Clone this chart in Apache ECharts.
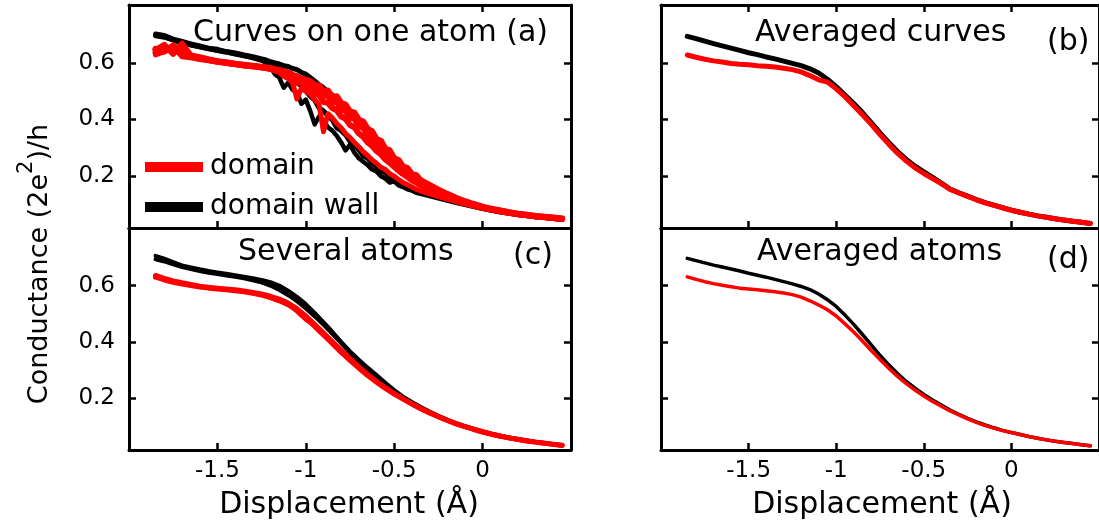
<!DOCTYPE html>
<html>
<head>
<meta charset="utf-8">
<script src="https://cdn.jsdelivr.net/npm/echarts@6/dist/echarts.min.js"></script>
<style>
  html, body { margin: 0; padding: 0; background: #ffffff; }
  #chart { width: 1099px; height: 527px; }
</style>
</head>
<body>
<div id="chart"></div>
<script>
// Tick positions shared by all four panels
const X_TICKS = [-1.5, -1, -0.5, 0];
const Y_TICKS = [0.2, 0.4, 0.6];

// Panel (a): individual traces recorded on one atom (finer sampling through the drop)
const X_A = [
  -1.85, -1.80, -1.75, -1.70, -1.65, -1.60, -1.55, -1.50, -1.45, -1.40, -1.35, -1.30, -1.25,
  -1.225, -1.20, -1.175, -1.15, -1.125, -1.10, -1.075, -1.05, -1.025, -1.00, -0.975, -0.95,
  -0.925, -0.90, -0.875, -0.85, -0.825, -0.80, -0.775, -0.75, -0.725, -0.70, -0.675, -0.65,
  -0.625, -0.60, -0.575, -0.55, -0.525, -0.50, -0.475, -0.45, -0.425, -0.40, -0.375, -0.35,
  -0.30, -0.25, -0.20, -0.15, -0.10, -0.05, 0.00, 0.05, 0.10, 0.15, 0.20, 0.25, 0.30, 0.35, 0.40, 0.45
];
const A_WALL_1 = [
  0.702, 0.697, 0.684, 0.676, 0.667, 0.660, 0.652, 0.648, 0.640, 0.635, 0.628, 0.622, 0.614,
  0.610, 0.604, 0.600, 0.596, 0.590, 0.587, 0.580, 0.576, 0.566, 0.560, 0.548, 0.536,
  0.522, 0.512, 0.497, 0.486, 0.470, 0.455, 0.438, 0.424, 0.404, 0.390, 0.370, 0.352,
  0.330, 0.316, 0.296, 0.280, 0.262, 0.248, 0.232, 0.220, 0.206, 0.196, 0.186, 0.176,
  0.160, 0.145, 0.131, 0.118, 0.107, 0.097, 0.089, 0.082, 0.076, 0.070, 0.065, 0.061, 0.057, 0.054, 0.051, 0.048
];
const A_WALL_2 = [
  0.695, 0.690, 0.680, 0.670, 0.662, 0.656, 0.650, 0.643, 0.637, 0.630, 0.624, 0.617, 0.608,
  0.600, 0.585, 0.560, 0.548, 0.512, 0.530, 0.505, 0.497, 0.455, 0.470, 0.430, 0.382,
  0.410, 0.395, 0.372, 0.360, 0.342, 0.318, 0.290, 0.310, 0.282, 0.262, 0.250, 0.238,
  0.222, 0.215, 0.198, 0.190, 0.176, 0.180, 0.166, 0.160, 0.152, 0.148, 0.140, 0.136,
  0.128, 0.120, 0.112, 0.104, 0.097, 0.090, 0.083, 0.077, 0.071, 0.066, 0.062, 0.058, 0.054, 0.051, 0.048, 0.045
];
const A_WALL_3 = [
  0.698, 0.694, 0.682, 0.672, 0.664, 0.657, 0.650, 0.645, 0.639, 0.633, 0.626, 0.620, 0.611,
  0.606, 0.598, 0.592, 0.580, 0.572, 0.560, 0.548, 0.530, 0.518, 0.500, 0.482, 0.468,
  0.440, 0.430, 0.412, 0.398, 0.370, 0.360, 0.345, 0.322, 0.310, 0.292, 0.270, 0.262,
  0.245, 0.232, 0.216, 0.210, 0.195, 0.188, 0.178, 0.168, 0.162, 0.155, 0.148, 0.142,
  0.134, 0.125, 0.116, 0.108, 0.100, 0.092, 0.085, 0.079, 0.073, 0.068, 0.063, 0.059, 0.055, 0.052, 0.049, 0.046
];
const A_DOM_1 = [
  0.645, 0.664, 0.632, 0.668, 0.626, 0.620, 0.612, 0.606, 0.600, 0.596, 0.592, 0.590, 0.586,
  0.584, 0.582, 0.578, 0.575, 0.570, 0.566, 0.558, 0.552, 0.545, 0.540, 0.536, 0.522,
  0.520, 0.500, 0.502, 0.480, 0.482, 0.458, 0.452, 0.428, 0.424, 0.398, 0.392, 0.366,
  0.358, 0.330, 0.324, 0.296, 0.290, 0.262, 0.256, 0.232, 0.228, 0.206, 0.202, 0.184,
  0.168, 0.151, 0.136, 0.122, 0.110, 0.100, 0.091, 0.083, 0.077, 0.071, 0.066, 0.062, 0.058, 0.055, 0.052, 0.049
];
const A_DOM_2 = [
  0.628, 0.640, 0.655, 0.622, 0.618, 0.612, 0.607, 0.603, 0.598, 0.594, 0.589, 0.586, 0.582,
  0.580, 0.577, 0.572, 0.565, 0.552, 0.545, 0.530, 0.472, 0.510, 0.500, 0.488, 0.470,
  0.452, 0.356, 0.420, 0.405, 0.385, 0.370, 0.350, 0.335, 0.318, 0.303, 0.285, 0.272,
  0.256, 0.244, 0.230, 0.222, 0.208, 0.198, 0.186, 0.176, 0.168, 0.160, 0.152, 0.146,
  0.136, 0.126, 0.117, 0.108, 0.100, 0.092, 0.085, 0.078, 0.072, 0.067, 0.062, 0.058, 0.055, 0.052, 0.049, 0.046
];
const A_DOM_3 = [
  0.635, 0.650, 0.642, 0.660, 0.622, 0.616, 0.610, 0.605, 0.602, 0.597, 0.593, 0.589, 0.585,
  0.583, 0.578, 0.576, 0.570, 0.562, 0.555, 0.540, 0.528, 0.532, 0.515, 0.508, 0.490,
  0.486, 0.462, 0.458, 0.440, 0.432, 0.410, 0.402, 0.380, 0.372, 0.350, 0.338, 0.318,
  0.306, 0.288, 0.276, 0.258, 0.246, 0.232, 0.218, 0.206, 0.196, 0.184, 0.176, 0.166,
  0.150, 0.137, 0.125, 0.114, 0.104, 0.095, 0.088, 0.081, 0.075, 0.069, 0.064, 0.060, 0.056, 0.053, 0.050, 0.047
];
const A_DOM_4 = [
  0.650, 0.640, 0.662, 0.636, 0.624, 0.618, 0.611, 0.604, 0.600, 0.596, 0.591, 0.588, 0.584,
  0.582, 0.580, 0.574, 0.572, 0.566, 0.556, 0.552, 0.538, 0.541, 0.522, 0.526, 0.504,
  0.508, 0.482, 0.486, 0.458, 0.462, 0.436, 0.430, 0.406, 0.402, 0.376, 0.370, 0.344,
  0.336, 0.310, 0.304, 0.278, 0.272, 0.248, 0.240, 0.220, 0.214, 0.196, 0.190, 0.176,
  0.158, 0.143, 0.130, 0.118, 0.107, 0.097, 0.089, 0.082, 0.076, 0.070, 0.065, 0.061, 0.057, 0.054, 0.051, 0.048
];

// Panels (b)-(d): averaged / multi-atom curves on a regular 0.05 Å grid
const X_GRID = [
  -1.85, -1.80, -1.75, -1.70, -1.65, -1.60, -1.55, -1.50, -1.45, -1.40, -1.35, -1.30, -1.25, -1.20, -1.15, -1.10,
  -1.05, -1.00, -0.95, -0.90, -0.85, -0.80, -0.75, -0.70, -0.65, -0.60, -0.55, -0.50, -0.45, -0.40, -0.35, -0.30,
  -0.25, -0.20, -0.15, -0.10, -0.05, 0.00, 0.05, 0.10, 0.15, 0.20, 0.25, 0.30, 0.35, 0.40, 0.45
];
const B_WALL = [
  0.694, 0.686, 0.677, 0.668, 0.660, 0.652, 0.644, 0.636, 0.629, 0.621, 0.614, 0.606, 0.598, 0.590, 0.579, 0.564,
  0.542, 0.516, 0.486, 0.456, 0.424, 0.388, 0.352, 0.318, 0.286, 0.258, 0.234, 0.214, 0.194, 0.174, 0.153, 0.140,
  0.128, 0.116, 0.105, 0.096, 0.087, 0.078, 0.071, 0.064, 0.058, 0.053, 0.048, 0.043, 0.039, 0.035, 0.031
];
const B_DOM = [
  0.628, 0.620, 0.613, 0.607, 0.603, 0.598, 0.595, 0.593, 0.590, 0.588, 0.585, 0.581, 0.576, 0.568, 0.555, 0.540,
  0.532, 0.508, 0.480, 0.448, 0.416, 0.382, 0.346, 0.312, 0.280, 0.252, 0.228, 0.208, 0.190, 0.172, 0.152, 0.139,
  0.127, 0.115, 0.104, 0.095, 0.086, 0.078, 0.071, 0.064, 0.058, 0.053, 0.048, 0.043, 0.039, 0.035, 0.031
];
const C_WALL_1 = [
  0.706, 0.696, 0.684, 0.672, 0.665, 0.658, 0.652, 0.647, 0.642, 0.637, 0.632, 0.626, 0.620, 0.612, 0.600, 0.582,
  0.560, 0.534, 0.503, 0.470, 0.436, 0.400, 0.366, 0.336, 0.308, 0.282, 0.254, 0.228, 0.205, 0.186, 0.168, 0.152,
  0.137, 0.123, 0.111, 0.100, 0.090, 0.081, 0.073, 0.066, 0.060, 0.054, 0.049, 0.044, 0.040, 0.036, 0.032
];
const C_WALL_2 = [
  0.694, 0.686, 0.676, 0.666, 0.659, 0.652, 0.646, 0.641, 0.636, 0.631, 0.626, 0.619, 0.612, 0.602, 0.589, 0.572,
  0.550, 0.524, 0.494, 0.463, 0.430, 0.396, 0.362, 0.330, 0.300, 0.272, 0.246, 0.223, 0.202, 0.183, 0.166, 0.150,
  0.135, 0.121, 0.109, 0.099, 0.089, 0.080, 0.072, 0.065, 0.059, 0.053, 0.048, 0.043, 0.039, 0.035, 0.031
];
const C_WALL_3 = [
  0.700, 0.690, 0.680, 0.670, 0.662, 0.655, 0.649, 0.643, 0.638, 0.632, 0.626, 0.618, 0.608, 0.596, 0.580, 0.562,
  0.540, 0.514, 0.486, 0.456, 0.424, 0.390, 0.357, 0.326, 0.296, 0.268, 0.243, 0.220, 0.200, 0.181, 0.164, 0.148,
  0.134, 0.120, 0.108, 0.098, 0.088, 0.079, 0.071, 0.064, 0.058, 0.052, 0.047, 0.043, 0.039, 0.035, 0.031
];
const C_DOM_1 = [
  0.630, 0.620, 0.612, 0.606, 0.600, 0.595, 0.591, 0.588, 0.585, 0.582, 0.578, 0.573, 0.566, 0.557, 0.546, 0.532,
  0.512, 0.484, 0.455, 0.424, 0.394, 0.364, 0.334, 0.306, 0.280, 0.256, 0.234, 0.214, 0.196, 0.178, 0.162, 0.147,
  0.133, 0.120, 0.108, 0.098, 0.088, 0.079, 0.071, 0.064, 0.058, 0.052, 0.047, 0.043, 0.039, 0.035, 0.031
];
const C_DOM_2 = [
  0.636, 0.626, 0.617, 0.610, 0.604, 0.598, 0.594, 0.591, 0.588, 0.585, 0.581, 0.576, 0.570, 0.562, 0.552, 0.538,
  0.518, 0.492, 0.462, 0.432, 0.401, 0.370, 0.340, 0.311, 0.284, 0.259, 0.237, 0.216, 0.198, 0.180, 0.163, 0.148,
  0.134, 0.121, 0.109, 0.098, 0.089, 0.080, 0.072, 0.065, 0.058, 0.053, 0.048, 0.043, 0.039, 0.035, 0.032
];
const C_DOM_3 = [
  0.633, 0.622, 0.614, 0.607, 0.601, 0.596, 0.592, 0.589, 0.586, 0.583, 0.579, 0.574, 0.568, 0.560, 0.549, 0.535,
  0.508, 0.478, 0.458, 0.428, 0.392, 0.360, 0.336, 0.308, 0.281, 0.257, 0.235, 0.215, 0.197, 0.179, 0.162, 0.147,
  0.133, 0.120, 0.108, 0.098, 0.088, 0.079, 0.071, 0.064, 0.058, 0.052, 0.047, 0.043, 0.039, 0.035, 0.031
];
const D_WALL = [
  0.697, 0.689, 0.681, 0.673, 0.666, 0.659, 0.652, 0.644, 0.637, 0.630, 0.622, 0.614, 0.606, 0.597, 0.586, 0.570,
  0.550, 0.526, 0.495, 0.462, 0.426, 0.389, 0.352, 0.318, 0.287, 0.259, 0.235, 0.213, 0.193, 0.175, 0.157, 0.142,
  0.128, 0.115, 0.104, 0.094, 0.085, 0.077, 0.070, 0.063, 0.057, 0.051, 0.046, 0.042, 0.038, 0.034, 0.030
];
const D_DOM = [
  0.631, 0.622, 0.614, 0.607, 0.601, 0.596, 0.591, 0.588, 0.585, 0.582, 0.578, 0.574, 0.568, 0.559, 0.546, 0.531,
  0.514, 0.492, 0.464, 0.435, 0.403, 0.369, 0.337, 0.306, 0.277, 0.251, 0.228, 0.207, 0.188, 0.171, 0.154, 0.140,
  0.126, 0.113, 0.102, 0.093, 0.084, 0.077, 0.070, 0.063, 0.057, 0.051, 0.046, 0.042, 0.038, 0.034, 0.030
];

const NAME_DOM = 'domain';
const NAME_WALL = 'domain wall';
const RED = '#ff0000';
const BLACK = '#000000';
const FONT = 'DejaVu Sans';

const X_MIN = -2, X_MAX = 0.5;
const Y_MIN = 0.015, Y_MAX = 0.805;

// Plot rectangles of the 2x2 layout
const GRIDS = [
  { left: 129, top: 5,   width: 442, height: 223 },
  { left: 661, top: 5,   width: 443, height: 223 },
  { left: 129, top: 228, width: 442, height: 222 },
  { left: 661, top: 228, width: 443, height: 222 }
];

function zip(xs, ys) {
  return xs.map((x, i) => [x, ys[i]]);
}

const axisLineStyle = { color: BLACK, width: 3 };
const tickLineStyle = { color: BLACK, width: 2.5 };
const TICK_FONT = 23;

const xAxes = [];
const yAxes = [];
GRIDS.forEach((g, i) => {
  const bottomRow = i >= 2;
  const leftCol = i % 2 === 0;
  xAxes.push({
    type: 'value', gridIndex: i, position: 'bottom', min: X_MIN, max: X_MAX,
    axisLine: { show: true, onZero: false, lineStyle: axisLineStyle },
    axisTick: { show: true, inside: true, length: 7, customValues: X_TICKS, lineStyle: tickLineStyle },
    axisLabel: { show: bottomRow, customValues: X_TICKS, color: BLACK, fontFamily: FONT, fontSize: TICK_FONT, margin: 10 },
    splitLine: { show: false }
  });
  xAxes.push({
    type: 'value', gridIndex: i, position: 'top', min: X_MIN, max: X_MAX,
    axisLine: { show: true, onZero: false, lineStyle: axisLineStyle },
    axisTick: { show: !bottomRow, inside: true, length: 7, customValues: X_TICKS, lineStyle: tickLineStyle },
    axisLabel: { show: false },
    splitLine: { show: false }
  });
  yAxes.push({
    type: 'value', gridIndex: i, position: 'left', min: Y_MIN, max: Y_MAX,
    axisLine: { show: true, onZero: false, lineStyle: axisLineStyle },
    axisTick: { show: true, inside: true, length: 7, customValues: Y_TICKS, lineStyle: tickLineStyle },
    axisLabel: { show: leftCol, customValues: Y_TICKS, color: BLACK, fontFamily: FONT, fontSize: TICK_FONT, margin: 14 },
    splitLine: { show: false }
  });
  yAxes.push({
    type: 'value', gridIndex: i, position: 'right', min: Y_MIN, max: Y_MAX,
    axisLine: { show: true, onZero: false, lineStyle: axisLineStyle },
    axisTick: { show: true, inside: true, length: 7, customValues: Y_TICKS, lineStyle: tickLineStyle },
    axisLabel: { show: false },
    splitLine: { show: false }
  });
});

function line(panel, name, xs, ys, color, width) {
  return {
    type: 'line', name: name,
    xAxisIndex: panel * 2, yAxisIndex: panel * 2,
    data: zip(xs, ys),
    symbol: 'none', smooth: false, clip: true,
    lineStyle: { color: color, width: width, join: 'round', cap: 'round' },
    itemStyle: { color: color },
    emphasis: { disabled: true },
    z: color === RED ? 3 : 2
  };
}

const series = [
  // (a) curves on one atom
  line(0, NAME_WALL, X_A, A_WALL_1, BLACK, 5),
  line(0, NAME_WALL, X_A, A_WALL_2, BLACK, 4.5),
  line(0, NAME_WALL, X_A, A_WALL_3, BLACK, 5),
  line(0, NAME_DOM, X_A, A_DOM_1, RED, 6),
  line(0, NAME_DOM, X_A, A_DOM_2, RED, 5),
  line(0, NAME_DOM, X_A, A_DOM_3, RED, 6),
  line(0, NAME_DOM, X_A, A_DOM_4, RED, 6),
  // (b) averaged curves
  line(1, NAME_WALL, X_GRID, B_WALL, BLACK, 5),
  line(1, NAME_DOM, X_GRID, B_DOM, RED, 5),
  // (c) several atoms
  line(2, NAME_WALL, X_GRID, C_WALL_1, BLACK, 4),
  line(2, NAME_WALL, X_GRID, C_WALL_2, BLACK, 4),
  line(2, NAME_WALL, X_GRID, C_WALL_3, BLACK, 2),
  line(2, NAME_DOM, X_GRID, C_DOM_1, RED, 5),
  line(2, NAME_DOM, X_GRID, C_DOM_2, RED, 5),
  line(2, NAME_DOM, X_GRID, C_DOM_3, RED, 4),
  // (d) averaged atoms
  line(3, NAME_WALL, X_GRID, D_WALL, BLACK, 3.5),
  line(3, NAME_DOM, X_GRID, D_DOM, RED, 3.5)
];

const TITLE_FONT = 30;
function label(text, x, y, size, align) {
  return {
    type: 'text', x: x, y: y, z: 10,
    style: {
      text: text, fill: BLACK, fontFamily: FONT, fontSize: size || TITLE_FONT,
      align: align || 'left', verticalAlign: 'middle'
    }
  };
}

const graphic = [
  label('Curves on one atom (a)', 193, 33),
  label('Averaged curves', 755, 33),
  label('(b)', 1047, 42),
  label('Several atoms', 238, 252),
  label('(c)', 513, 256),
  label('Averaged atoms', 757, 252),
  label('(d)', 1047, 260),
  label('Displacement (\u00C5)', 349, 505, 30, 'center'),
  label('Displacement (\u00C5)', 882, 505, 30, 'center'),
  {
    type: 'text', x: 33, y: 264, rotation: Math.PI / 2, z: 10,
    style: {
      text: '{n|Conductance (2e}{s|2}{n|)/h}',
      align: 'center', verticalAlign: 'middle',
      rich: {
        n: { fontFamily: FONT, fontSize: 27, fill: BLACK, color: BLACK, lineHeight: 40, verticalAlign: 'bottom' },
        s: { fontFamily: FONT, fontSize: 21, fill: BLACK, color: BLACK, lineHeight: 40, verticalAlign: 'top', padding: [3, 0, 0, 0] }
      }
    }
  }
];

const chart = echarts.init(document.getElementById('chart'), null, { renderer: 'canvas' });
chart.setOption({
  backgroundColor: '#ffffff',
  animation: false,
  grid: GRIDS,
  xAxis: xAxes,
  yAxis: yAxes,
  legend: {
    data: [NAME_DOM, NAME_WALL],
    orient: 'vertical', left: 140, top: 146,
    icon: 'rect', itemWidth: 58, itemHeight: 10, itemGap: 8,
    selectedMode: false,
    textStyle: { fontFamily: FONT, fontSize: 28, color: BLACK, lineHeight: 32, padding: [0, 0, 0, 2] }
  },
  series: series,
  graphic: graphic
});
</script>
</body>
</html>
